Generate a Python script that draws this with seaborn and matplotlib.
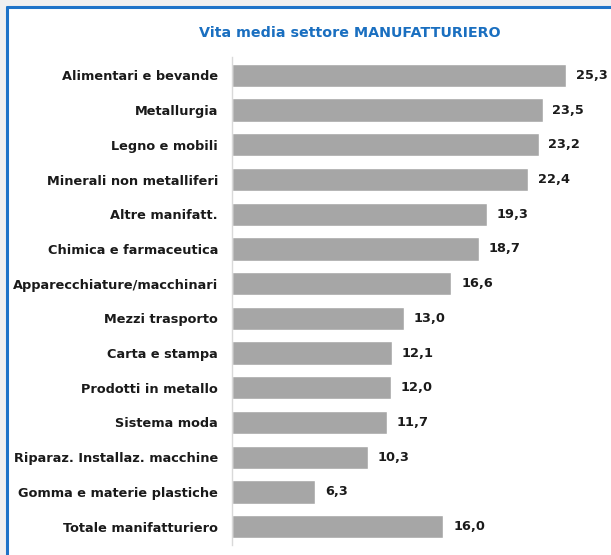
import numpy as np
import pandas as pd
import seaborn as sns
import matplotlib.pyplot as plt
from matplotlib.patches import Rectangle
from matplotlib.lines import Line2D

settori = ["Alimentari e bevande", "Metallurgia", "Legno e mobili",
           "Minerali non metalliferi", "Altre manifatt.", "Chimica e farmaceutica",
           "Apparecchiature/macchinari", "Mezzi trasporto", "Carta e stampa",
           "Prodotti in metallo", "Sistema moda", "Riparaz. Installaz. macchine",
           "Gomma e materie plastiche", "Totale manifatturiero"]
vita_media = [25.3, 23.5, 23.2, 22.4, 19.3, 18.7, 16.6, 13.0, 12.1, 12.0, 11.7, 10.3, 6.3, 16.0]

df = pd.DataFrame({"settore": settori, "vita": vita_media})

sns.set_style("white")
plt.rcParams['font.family'] = ['DejaVu Sans']

fig = plt.figure(figsize=(6.11, 5.55), dpi=100)
fig.patch.set_facecolor("#f0f0f0")

# pannello bianco con bordo blu in alto e a sinistra
W, H = 611, 555
fig.patches.append(Rectangle((7 / W, 0), 1, 1 - 7 / H, transform=fig.transFigure,
                             facecolor="white", edgecolor="none", zorder=-10))
fig.lines.append(Line2D([7 / W, 1], [1 - 7 / H, 1 - 7 / H], transform=fig.transFigure,
                        color="#1e73c8", lw=2.2, zorder=-5))
fig.lines.append(Line2D([7 / W, 7 / W], [0, 1 - 7 / H], transform=fig.transFigure,
                        color="#1e73c8", lw=2.2, zorder=-5))

ax = fig.add_axes([232 / W, 10 / H, 370 / W, 488 / H])
ax.set_facecolor("none")

sns.barplot(data=df, x="vita", y="settore", color="#a6a6a6", width=0.67,
            saturation=1, ax=ax)

ax.bar_label(ax.containers[0], labels=[f"{v:.1f}".replace(".", ",") for v in vita_media],
             padding=7, fontsize=9.3, fontweight="bold", color="#1a1a1a")

ax.set_xlim(0, 28.0)
ax.set_ylim(13.53, -0.53)
ax.set_xlabel("")
ax.set_ylabel("")
ax.set_xticks([])
ax.tick_params(axis="y", length=0, pad=10)
for lab in ax.get_yticklabels():
    lab.set_fontweight("bold")
    lab.set_fontsize(9.3)
    lab.set_color("#1a1a1a")

for s in ["top", "right", "bottom"]:
    ax.spines[s].set_visible(False)
ax.spines["left"].set_color("#d9d9d9")
ax.spines["left"].set_linewidth(1)

fig.text(350 / W, 1 - 33 / H, "Vita media settore MANUFATTURIERO", ha="center", va="center",
         fontsize=10.3, fontweight="bold", color="#1a6fc0")

fig.savefig("out.png", dpi=100)
